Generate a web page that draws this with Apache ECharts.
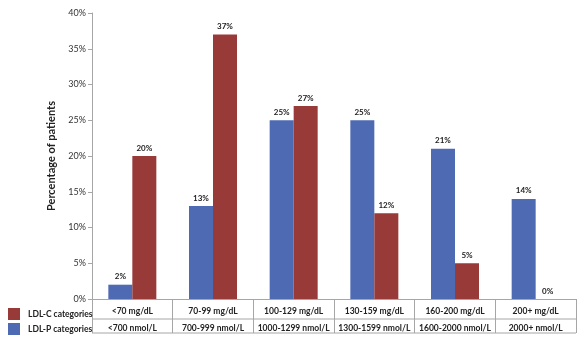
<!DOCTYPE html>
<html><head><meta charset="utf-8">
<script src="https://cdn.jsdelivr.net/npm/echarts@6/dist/echarts.min.js"></script>
<style>html,body{margin:0;padding:0;background:#fff}#c{width:581px;height:341px}</style>
</head><body><div id="c"></div>
<script>
const ldlCCategories = ['<70 mg/dL','70-99 mg/dL','100-129 mg/dL','130-159 mg/dL','160-200 mg/dL','200+ mg/dL'];
const ldlPCategories = ['<700 nmol/L','700-999 nmol/L','1000-1299 nmol/L','1300-1599 nmol/L','1600-2000 nmol/L','2000+ nmol/L'];
const ldlPValues = [2, 13, 25, 25, 21, 14];
const ldlCValues = [20, 37, 27, 12, 5, 0];
const seriesNames = ['LDL-P categories', 'LDL-C categories'];
const yTicks = [0, 5, 10, 15, 20, 25, 30, 35, 40];

const FONT = 'Lato, "Liberation Sans", sans-serif';
const BLUE = '#4E6AB3', RED = '#973A38', LINE = '#A6A6A6';
const chart = echarts.init(document.getElementById('c'));
const G = {left: 92, top: 13, right: 5, bottom: 42};

const labelCfg = {show: true, position: 'top', distance: 4, formatter: '{c}%', fontFamily: FONT, fontSize: 8, fontWeight: 'bold', color: '#222'};
const legendBase = {
  left: 8, padding: 0, itemWidth: 12, itemHeight: 12, icon: 'rect',
  textStyle: {fontFamily: FONT, fontSize: 8.5, fontWeight: 'bold', color: '#222', padding: [0, 0, 0, 3]}
};

chart.setOption({
  animation: false,
  backgroundColor: '#fff',
  grid: G,
  legend: [
    Object.assign({}, legendBase, {top: 308, data: [seriesNames[1]]}),
    Object.assign({}, legendBase, {top: 323, data: [seriesNames[0]]})
  ],
  xAxis: {
    type: 'category',
    data: ldlCCategories.map((c, i) => c + '\n' + ldlPCategories[i]),
    axisLine: {lineStyle: {color: LINE}},
    axisTick: {show: true, interval: 0, length: 34, lineStyle: {color: LINE}},
    axisLabel: {
      interval: 0, margin: 4, fontFamily: FONT, fontSize: 8.5, fontWeight: 'bold', color: '#222', lineHeight: 17
    }
  },
  yAxis: {
    type: 'value', min: yTicks[0], max: yTicks[yTicks.length - 1], interval: 5,
    name: 'Percentage of patients', nameLocation: 'middle', nameGap: 34, nameRotate: 90,
    nameTextStyle: {fontFamily: FONT, fontSize: 11, fontWeight: 'bold', color: '#222'},
    axisLine: {show: true, lineStyle: {color: LINE}},
    axisTick: {show: true, length: 4, lineStyle: {color: LINE}},
    splitLine: {show: false},
    axisLabel: {formatter: '{value}%', fontFamily: FONT, fontSize: 9, color: '#333', margin: 6}
  },
  series: [
    {name: seriesNames[0], type: 'bar', data: ldlPValues, barWidth: 24, barGap: '0%', itemStyle: {color: BLUE}, label: labelCfg},
    {name: seriesNames[1], type: 'bar', data: ldlCValues, barWidth: 24, barGap: '0%', itemStyle: {color: RED}, label: labelCfg}
  ]
});

const W = chart.getWidth(), H = chart.getHeight();
const x0 = G.left, x1 = W - G.right, yb = H - G.bottom;
chart.setOption({
  graphic: [
    {type: 'line', shape: {x1: x0, y1: yb + 20, x2: x1, y2: yb + 20}, style: {stroke: LINE, lineWidth: 1}},
    {type: 'line', shape: {x1: x0, y1: yb + 34, x2: x1, y2: yb + 34}, style: {stroke: LINE, lineWidth: 1}}
  ]
});
</script></body></html>
